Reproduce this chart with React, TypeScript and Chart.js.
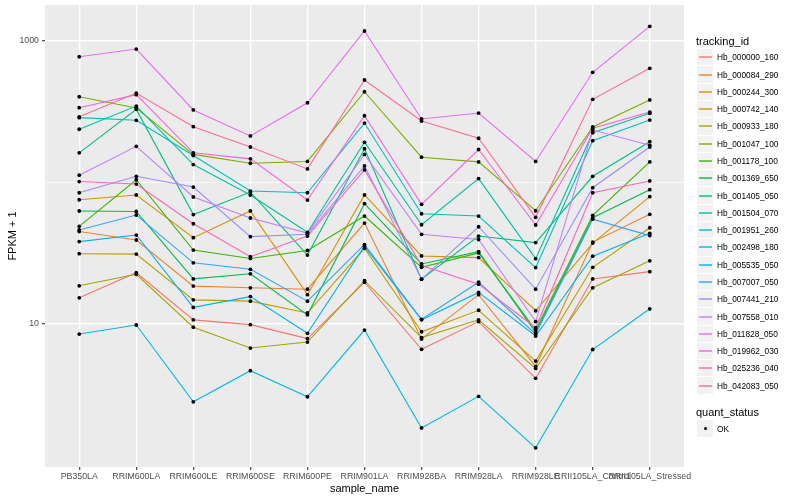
import React, { useEffect, useRef } from "react";
import { Chart, registerables } from "chart.js";
Chart.register(...registerables);

const categories = [
  "PB350LA", "RRIM600LA", "RRIM600LE", "RRIM600SE", "RRIM600PE", "RRIM901LA",
  "RRIM928BA", "RRIM928LA", "RRIM928LE", "RRII105LA_Control", "RRII105LA_Stressed",
];

const trackingIds = [
  "Hb_000000_160", "Hb_000084_290", "Hb_000244_300", "Hb_000742_140", "Hb_000933_180",
  "Hb_001047_100", "Hb_001178_100", "Hb_001369_650", "Hb_001405_050", "Hb_001504_070",
  "Hb_001951_260", "Hb_002498_180", "Hb_005535_050", "Hb_007007_050", "Hb_007441_210",
  "Hb_007558_010", "Hb_011828_050", "Hb_019962_030", "Hb_025236_040", "Hb_042083_050",
];

const colors = [
  "#F8766D", "#EA8331", "#D89000", "#C09B00", "#A3A500", "#7CAE00", "#39B600", "#00BB4E",
  "#00BF7D", "#00C1A3", "#00BFC4", "#00BAE0", "#00B0F6", "#35A2FF", "#9590FF", "#C77CFF",
  "#E76BF3", "#FA62DB", "#FF62BC", "#FF6C91",
];

// FPKM + 1 values, one array per tracking_id, in category order
const hb000000_160 = [15.3, 23.0, 10.7, 9.9, 7.9, 19.7, 6.63, 10.4, 4.14, 20.8, 23.4];
const hb000084_290 = [44.9, 39.1, 18.5, 18.0, 17.6, 51.5, 7.84, 16.1, 5.03, 37.8, 59.3];
const hb000244_300 = [75.2, 81.2, 40.6, 62.6, 16.1, 81.2, 30.2, 29.4, 12.4, 37.2, 79.0];
const hb000742_140 = [31.3, 31.1, 14.8, 14.5, 11.96, 34.2, 8.82, 12.5, 5.48, 25.1, 47.7];
const hb000933_180 = [18.6, 22.4, 9.5, 6.77, 7.46, 20.2, 8.03, 10.7, 4.86, 18.0, 27.9];
const hb001047_100 = [400, 333, 157, 136, 140, 434, 150, 139, 62.9, 245, 380];
const hb001178_100 = [48.8, 104, 33.2, 29.0, 33.0, 57.7, 25.1, 31.7, 9.07, 58.4, 139];
const hb001369_650 = [62.6, 62.1, 20.8, 22.6, 11.6, 70.5, 26.5, 32.4, 8.74, 56.1, 88.5];
const hb001405_050 = [161, 326, 59.1, 85.2, 30.6, 172, 20.7, 41.7, 37.5, 110, 193];
const hb001504_070 = [236, 344, 133, 81.2, 44.3, 191, 50.1, 106, 28.9, 223, 306];
const hb001951_260 = [285, 273, 154, 86.6, 84.2, 261, 59.9, 57.7, 25.0, 196, 274];
const hb002498_180 = [8.5, 9.84, 2.83, 4.69, 3.07, 9.07, 1.85, 3.09, 1.34, 6.61, 12.8];
const hb005535_050 = [38.1, 42.4, 13.1, 15.6, 8.6, 35.3, 10.7, 16.7, 8.23, 30.1, 43.6];
const hb007007_050 = [46.0, 58.7, 27.0, 24.3, 14.5, 36.3, 10.8, 19.7, 8.5, 54.8, 42.0];
const hb007441_210 = [84.2, 110, 92.4, 41.3, 42.9, 130, 20.7, 48.5, 17.6, 91.4, 177];
const hb007558_010 = [112, 179, 78.6, 55.9, 43.8, 157, 42.9, 39.4, 10.4, 233, 182];
const hb011828_050 = [766, 868, 323, 212, 363, 1163, 279, 307, 140, 595, 1255];
const hb019962_030 = [335, 414, 161, 146, 74.8, 294, 69.8, 170, 49.9, 240, 312];
const hb025236_040 = [101, 97.0, 50.9, 29.8, 41.7, 122, 25.8, 19.1, 9.41, 84.2, 102];
const hb042083_050 = [289, 425, 246, 177, 124, 525, 270, 204, 56.5, 384, 635];

const seriesValues = [
  hb000000_160, hb000084_290, hb000244_300, hb000742_140, hb000933_180,
  hb001047_100, hb001178_100, hb001369_650, hb001405_050, hb001504_070,
  hb001951_260, hb002498_180, hb005535_050, hb007007_050, hb007441_210,
  hb007558_010, hb011828_050, hb019962_030, hb025236_040, hb042083_050,
];

const yTicks = [10, 100, 1000];
const yLabelled = [10, 1000];

const FONT = "'Liberation Sans', Arial, Helvetica, sans-serif";

export default function App() {
  const ref = useRef<HTMLCanvasElement>(null);

  useEffect(() => {
    const panelBg = {
      id: "panelBg",
      beforeDraw(chart: any) {
        const { ctx, chartArea: a } = chart;
        ctx.save();
        ctx.fillStyle = "#EBEBEB";
        ctx.fillRect(a.left, a.top, a.right - a.left, a.bottom - a.top);
        ctx.restore();
      },
    };

    const lineDatasets = seriesValues.map((vals, i) => ({
      type: "line" as const,
      label: trackingIds[i],
      data: vals.map((v, j) => ({ x: j, y: v })),
      borderColor: colors[i],
      backgroundColor: colors[i],
      borderWidth: 1.1,
      pointRadius: 0,
      tension: 0,
      fill: false,
      order: 100 - i,
    }));

    const pointDataset = {
      type: "scatter" as const,
      label: "OK",
      data: seriesValues.flatMap((vals) => vals.map((v, j) => ({ x: j, y: v }))),
      showLine: false,
      pointRadius: 1.9,
      pointBackgroundColor: "#000000",
      pointBorderWidth: 0,
      order: 0,
    };

    const isMajor = (v: number) => yLabelled.includes(v);

    const chart = new Chart(ref.current as HTMLCanvasElement, {
      type: "line",
      data: { datasets: [...lineDatasets, pointDataset] as any },
      options: {
        animation: false,
        responsive: true,
        maintainAspectRatio: false,
        events: [],
        layout: { padding: { left: 0, right: 116, top: 5, bottom: 0 } },
        plugins: {
          legend: { display: false },
          tooltip: { enabled: false },
        },
        scales: {
          x: {
            type: "linear",
            min: -0.6,
            max: 10.6,
            afterBuildTicks: (scale: any) => {
              scale.ticks = categories.map((_, i) => ({ value: i }));
            },
            afterFit: (scale: any) => {
              scale.height = 33;
              scale.paddingLeft = 0;
              scale.paddingRight = 0;
            },
            ticks: {
              autoSkip: false,
              maxRotation: 0,
              minRotation: 0,
              padding: 1,
              color: "#4D4D4D",
              font: { family: FONT, size: 8.8 },
              callback: (v: any) => categories[v as number] ?? "",
            },
            grid: {
              color: "#FFFFFF",
              lineWidth: 1.4,
              tickColor: "#333333",
              tickLength: 3,
              tickWidth: 1.1,
            },
            border: { display: false },
            title: {
              display: true,
              text: "sample_name",
              color: "#000000",
              font: { family: FONT, size: 11 },
              padding: { top: 0, bottom: 4 },
            },
          },
          y: {
            type: "logarithmic",
            min: Math.pow(10, -0.008),
            max: Math.pow(10, 3.249),
            afterBuildTicks: (scale: any) => {
              scale.ticks = yTicks.map((value) => ({ value, major: isMajor(value) }));
            },
            afterFit: (scale: any) => {
              scale.width = 45;
              scale.paddingTop = 0;
              scale.paddingBottom = 0;
            },
            ticks: {
              autoSkip: false,
              padding: 3,
              color: "#4D4D4D",
              font: { family: FONT, size: 8.8 },
              callback: (v: any) => (isMajor(v as number) ? String(v) : ""),
            },
            grid: {
              color: "#FFFFFF",
              lineWidth: (ctx: any) => (ctx.tick && isMajor(ctx.tick.value) ? 1.4 : 0.7),
              tickColor: (ctx: any) =>
                ctx.tick && isMajor(ctx.tick.value) ? "#333333" : "rgba(0,0,0,0)",
              tickLength: 3,
              tickWidth: 1.1,
            },
            border: { display: false },
            title: {
              display: true,
              text: "FPKM + 1",
              color: "#000000",
              font: { family: FONT, size: 11 },
              padding: { top: 6.5, bottom: 0 },
            },
          },
        },
      } as any,
      plugins: [panelBg],
    });

    return () => chart.destroy();
  }, []);

  const keyH = 17.28;
  const firstKeyCenter = 57.3;
  const quantTitleCenter = 412;

  return (
    <div
      style={{
        position: "absolute",
        left: 0,
        top: 0,
        width: 800,
        height: 500,
        background: "#FFFFFF",
        fontFamily: FONT,
        overflow: "hidden",
      }}
    >
      <canvas ref={ref} style={{ position: "absolute", left: 0, top: 0, width: 800, height: 500 }} />
      <div
        style={{
          position: "absolute",
          left: 696,
          top: 40.7 - 7,
          height: 14,
          lineHeight: "14px",
          fontSize: 11,
          color: "#000",
          whiteSpace: "nowrap",
        }}
      >
        tracking_id
      </div>
      {trackingIds.map((id, i) => {
        const cy = firstKeyCenter + keyH * i;
        return (
          <div key={id}>
            <div
              style={{
                position: "absolute",
                left: 697,
                top: cy - keyH / 2 + 0.5,
                width: keyH - 0.8,
                height: keyH - 1,
                background: "#F2F2F2",
              }}
            />
            <div
              style={{
                position: "absolute",
                left: 698.7,
                top: cy - 1,
                width: 13.8,
                height: 2,
                background: colors[i],
                opacity: 0.7,
              }}
            />
            <div
              style={{
                position: "absolute",
                left: 717,
                top: cy - 6,
                height: 12,
                lineHeight: "12px",
                fontSize: 8.3,
                color: "#000",
                whiteSpace: "nowrap",
              }}
            >
              {id}
            </div>
          </div>
        );
      })}
      <div
        style={{
          position: "absolute",
          left: 696,
          top: quantTitleCenter - 7,
          height: 14,
          lineHeight: "14px",
          fontSize: 11,
          color: "#000",
          whiteSpace: "nowrap",
        }}
      >
        quant_status
      </div>
      <div
        style={{
          position: "absolute",
          left: 697,
          top: quantTitleCenter + 16.6 - keyH / 2 + 0.5,
          width: keyH - 0.8,
          height: keyH - 1,
          background: "#F2F2F2",
        }}
      />
      <div
        style={{
          position: "absolute",
          left: 703.7,
          top: quantTitleCenter + 16.6 - 1.8,
          width: 3.6,
          height: 3.6,
          borderRadius: 1.8,
          background: "#000",
        }}
      />
      <div
        style={{
          position: "absolute",
          left: 717,
          top: quantTitleCenter + 16.6 - 6,
          height: 12,
          lineHeight: "12px",
          fontSize: 8.3,
          color: "#000",
          whiteSpace: "nowrap",
        }}
      >
        OK
      </div>
    </div>
  );
}
